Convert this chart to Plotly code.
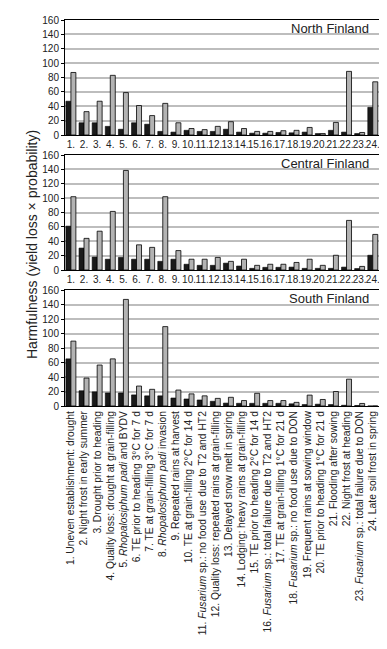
import plotly.graph_objects as go
from plotly.subplots import make_subplots

numbers = [f"{i}." for i in range(1, 25)]
labels = [
    "1. Uneven establishment: drought",
    "2. Night frost in early summer",
    "3. Drought prior to heading",
    "4. Quality loss: drought at grain-filling",
    "5. <i>Rhopalosiphum padi</i> and BYDV",
    "6. TE prior to heading 3°C for 7 d",
    "7. TE at grain-filling 3°C for 7 d",
    "8. <i>Rhopalosiphum padi</i> invasion",
    "9. Repeated rains at harvest",
    "10. TE at grain-filling 2°C for 14 d",
    "11. <i>Fusarium</i> sp.: no food use due to T2 and HT2",
    "12. Quality loss: repeated rains at grain-filling",
    "13. Delayed snow melt in spring",
    "14. Lodging: heavy rains at grain-filling",
    "15. TE prior to heading 2°C for 14 d",
    "16. <i>Fusarium</i> sp.: total failure due to T2 and HT2",
    "17. TE at grain-filling 1°C for 21 d",
    "18. <i>Fusarium</i> sp.: no food use due to DON",
    "19. Frequent rains at sowing window",
    "20. TE prior to heading 1°C for 21 d",
    "21. Flooding after sowing",
    "22. Night frost at heading",
    "23. <i>Fusarium</i> sp.: total failure due to DON",
    "24. Late soil frost in spring",
]

north_dark = [47, 17, 17, 12, 8, 17, 15, 5, 4, 6.5, 5, 5, 8, 4, 2.5, 2.5, 3.5, 3, 4, 2, 6.5, 4, 2, 38.5]
north_grey = [87, 32.5, 47, 83, 59, 41, 27, 44, 17, 9, 7.5, 12, 18.5, 9, 5, 5, 6, 6.5, 10.5, 2, 17.5, 88.5, 3.5, 74]

central_dark = [61, 30.5, 18, 15, 17.5, 15, 15, 12, 15, 8, 6.5, 6.5, 9.5, 5.5, 2.3, 3.7, 3.7, 4, 2.3, 2.3, 2.3, 4, 2, 20.5]
central_grey = [102, 44, 54, 81.5, 138.5, 35, 31.5, 102, 27, 15, 15, 17.5, 12, 15, 6.5, 8, 8, 10.5, 15, 6.5, 20.5, 69, 5, 49.5]

south_dark = [65, 21, 19.5, 18, 18, 15.3, 14, 14, 11, 9.7, 8.3, 6.5, 4, 3.7, 3.7, 3.7, 3.7, 3, 2, 2.5, 2, 1, 0.7, 0]
south_grey = [89.5, 38.5, 56.5, 65, 147, 27.5, 23, 109.5, 22, 16.7, 14, 10.5, 12, 7.5, 17.5, 7.5, 7.5, 5, 15, 9, 20, 37, 3.5, 0]

panels = [
    ("North Finland", north_dark, north_grey),
    ("Central Finland", central_dark, central_grey),
    ("South Finland", south_dark, south_grey),
]

FONT = "Liberation Sans, Arial, sans-serif"
W, H = 387, 649
ML, MR, MT, MB = 57, 15, 12, 251
PH = H - MT - MB  # plot height in px

fig = make_subplots(rows=3, cols=1)
xs = list(range(24))

for r, (name, dark, grey) in enumerate(panels, start=1):
    fig.add_trace(go.Bar(x=xs, y=dark, marker=dict(color="#1a1a1a", line=dict(color="#000", width=0.6)),
                         showlegend=False), row=r, col=1)
    fig.add_trace(go.Bar(x=xs, y=grey, marker=dict(color="#b3b3b3", line=dict(color="#000", width=0.8)),
                         showlegend=False), row=r, col=1)

# domains in px (from top of plot area)
doms_px = [(0, 115), (135, 250), (270, 386)]
for i, (t, b) in enumerate(doms_px, start=1):
    ya = "yaxis" if i == 1 else f"yaxis{i}"
    xa = "xaxis" if i == 1 else f"xaxis{i}"
    fig.layout[ya].domain = [1 - b / PH, 1 - t / PH]
    fig.layout[ya].update(range=[0, 160], tickvals=list(range(0, 161, 20)),
                          showgrid=True, gridcolor="#bdbdbd", gridwidth=1.8,
                          showline=True, linecolor="#000", linewidth=1, mirror=True,
                          ticks="outside", ticklen=3, tickcolor="#000",
                          tickfont=dict(size=10, color="#222", family=FONT),
                          zeroline=False)
    fig.layout[xa].update(range=[-0.45, 23.55], tickvals=xs,
                          ticktext=numbers if i < 3 else labels,
                          tickangle=0 if i < 3 else -90,
                          showgrid=False, showline=True, linecolor="#000", linewidth=1, mirror=True,
                          ticks="", zeroline=False,
                          tickfont=dict(size=10 if i < 3 else 10.3, color="#222", family=FONT))

for i, (name, _, _) in enumerate(panels, start=1):
    xr = "x domain" if i == 1 else f"x{i} domain"
    yr = "y domain" if i == 1 else f"y{i} domain"
    fig.add_annotation(text=name, xref=xr, yref=yr, x=0.972, y=1 - 8.5 / 115,
                       xanchor="right", yanchor="middle", showarrow=False,
                       font=dict(size=13, color="#222", family=FONT))

fig.add_annotation(text="Harmfulness (yield loss × probability)", textangle=-90,
                   xref="paper", yref="paper", x=(24 - ML) / (W - ML - MR), y=1 - (237 - MT) / PH,
                   xanchor="center", yanchor="middle", showarrow=False,
                   font=dict(size=14, color="#222", family=FONT))

fig.update_layout(width=W, height=H, margin=dict(l=ML, r=MR, t=MT, b=MB, autoexpand=False),
                  barmode="group", bargap=0.24, bargroupgap=0,
                  plot_bgcolor="white", paper_bgcolor="white",
                  font=dict(family=FONT, color="#222"))

fig.write_html("out.html")
